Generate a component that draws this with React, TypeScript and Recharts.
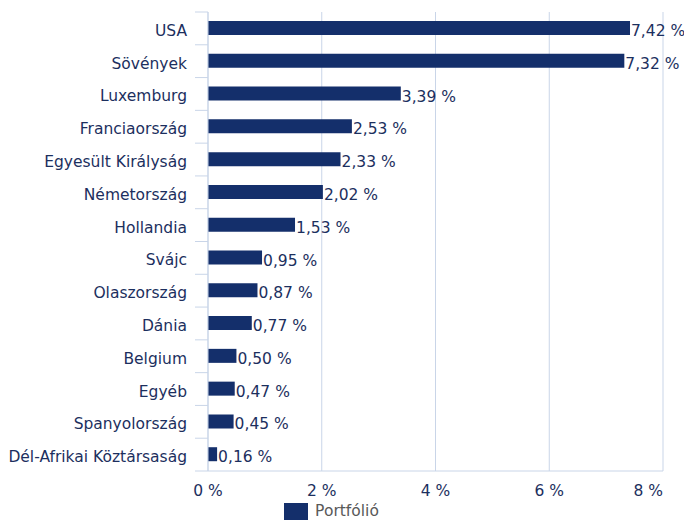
import React from 'react';
import { BarChart, Bar, XAxis, YAxis, CartesianGrid, LabelList, Legend } from 'recharts';

const countries = [
    'USA',
    'Sövények',
    'Luxemburg',
    'Franciaország',
    'Egyesült Királyság',
    'Németország',
    'Hollandia',
    'Svájc',
    'Olaszország',
    'Dánia',
    'Belgium',
    'Egyéb',
    'Spanyolország',
    'Dél-Afrikai Köztársaság',
];
const portfolio = [7.42, 7.32, 3.39, 2.53, 2.33, 2.02, 1.53, 0.95, 0.87, 0.77, 0.5, 0.47, 0.45, 0.16];
const xTicks = [0, 2, 4, 6, 8];

const data = countries.map((name, i) => ({ name, value: portfolio[i] }));

const NAVY = '#142f6b';
const TEXT = '#1c2f5e';
const GRID = '#c9d5e8';
const FONT = "'DejaVu Sans', Verdana, sans-serif";
const FS = 15.5;

const W = 684;
const H = 523;
const TOP = 12;
const PLOT_BOTTOM = 471;
const BAND = (PLOT_BOTTOM - TOP) / countries.length;

const fmt = (v: number) => `${v.toFixed(2).replace('.', ',')} %`;

const CategoryTick = (props: any) => {
    const { x, y, payload, index } = props;
    const last = index === countries.length - 1;
    return (
        <g>
            <line x1={x - 13} x2={x} y1={y - BAND / 2} y2={y - BAND / 2} stroke={GRID} />
            {last && <line x1={x - 13} x2={x} y1={y + BAND / 2} y2={y + BAND / 2} stroke={GRID} />}
            <text x={x - 21} y={y} dy={7.5} textAnchor="end" fill={TEXT} fontSize={FS} fontFamily={FONT}>
                {payload.value}
            </text>
        </g>
    );
};

const PercentTick = (props: any) => {
    const { x, y, payload } = props;
    const isMax = payload.value === xTicks[xTicks.length - 1];
    return (
        <text x={x} y={y} dy={17} textAnchor={isMax ? 'end' : 'middle'} fill={TEXT} fontSize={FS} fontFamily={FONT}>
            {`${payload.value} %`}
        </text>
    );
};

const LegendBox = () => (
    <div style={{ display: 'flex', justifyContent: 'center', alignItems: 'center', height: 24, fontFamily: FONT }}>
        <span style={{ display: 'inline-block', width: 24, height: 17, background: NAVY, marginRight: 7 }} />
        <span style={{ color: '#595959', fontSize: FS }}>Portfólió</span>
    </div>
);

export default function App() {
    return (
        <div style={{ position: 'absolute', top: 0, left: 0, width: W, height: H, background: '#fff' }}>
            <BarChart
                width={W}
                height={H}
                data={data}
                layout="vertical"
                margin={{ top: TOP, right: 21, left: 0, bottom: 0 }}
            >
                <CartesianGrid horizontal={false} stroke={GRID} />
                <XAxis
                    type="number"
                    domain={[0, 8]}
                    ticks={xTicks}
                    axisLine={{ stroke: GRID }}
                    tickLine={false}
                    tick={<PercentTick />}
                    height={28}
                    interval={0}
                />
                <YAxis
                    type="category"
                    dataKey="name"
                    width={208}
                    axisLine={{ stroke: GRID }}
                    tickLine={false}
                    tickSize={0}
                    tickMargin={0}
                    tick={<CategoryTick />}
                    interval={0}
                />
                <Legend verticalAlign="bottom" height={24} content={<LegendBox />} />
                <Bar dataKey="value" name="Portfólió" fill={NAVY} barSize={14} isAnimationActive={false}>
                    <LabelList
                        dataKey="value"
                        position="right"
                        offset={1}
                        dy={2.5}
                        formatter={(v: any) => fmt(Number(v))}
                        fill={TEXT}
                        fontSize={FS}
                        fontFamily={FONT}
                    />
                </Bar>
            </BarChart>
        </div>
    );
}
